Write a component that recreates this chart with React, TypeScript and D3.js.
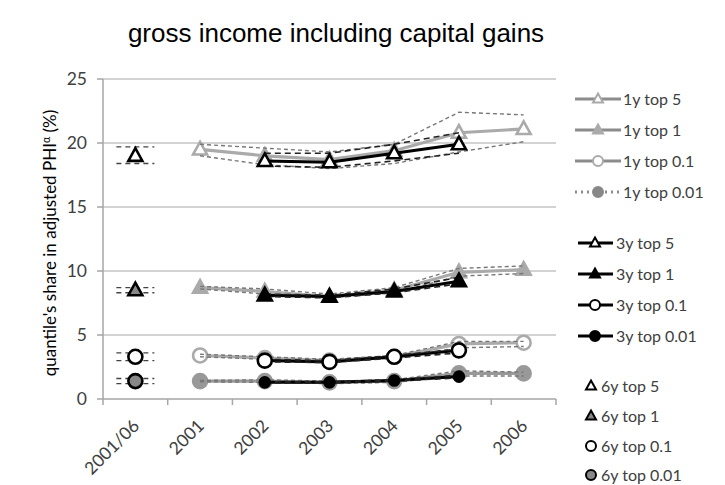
import React from "react";
import * as d3 from "d3";

// Category axis
const categories = ["2001/06", "2001", "2002", "2003", "2004", "2005", "2006"];
const years1y = ["2001", "2002", "2003", "2004", "2005", "2006"];
const years3y = ["2002", "2003", "2004", "2005"];
const yTicks = [0, 5, 10, 15, 20, 25];

// 1-year estimates (share in %), with lower/upper bands
const y1Top5 = [19.5, 19.0, 18.7, 19.4, 20.8, 21.1];
const y1Top5Lo = [19.0, 18.3, 18.0, 18.4, 19.3, 20.1];
const y1Top5Hi = [19.9, 19.6, 19.3, 19.9, 22.4, 22.2];
const y1Top1 = [8.7, 8.4, 8.0, 8.5, 9.9, 10.1];
const y1Top1Lo = [8.6, 8.2, 7.9, 8.3, 9.6, 9.8];
const y1Top1Hi = [8.8, 8.6, 8.2, 8.7, 10.2, 10.4];
const y1Top01 = [3.4, 3.2, 3.0, 3.3, 4.3, 4.4];
const y1Top01Lo = [3.3, 3.1, 2.9, 3.2, 4.0, 4.1];
const y1Top01Hi = [3.5, 3.3, 3.1, 3.4, 4.5, 4.5];
const y1Top001 = [1.4, 1.4, 1.3, 1.4, 2.0, 2.0];
const y1Top001Lo = [1.35, 1.3, 1.2, 1.3, 1.8, 1.8];
const y1Top001Hi = [1.45, 1.5, 1.4, 1.5, 2.2, 2.1];

// 3-year estimates, with lower/upper bands
const y3Top5 = [18.6, 18.5, 19.2, 19.9];
const y3Top5Lo = [18.2, 18.1, 18.6, 19.2];
const y3Top5Hi = [19.2, 19.2, 19.9, 20.8];
const y3Top1 = [8.1, 8.0, 8.4, 9.2];
const y3Top1Lo = [8.0, 7.9, 8.3, 9.0];
const y3Top1Hi = [8.2, 8.1, 8.6, 9.5];
const y3Top01 = [3.0, 2.9, 3.3, 3.8];
const y3Top01Lo = [2.9, 2.85, 3.2, 3.6];
const y3Top01Hi = [3.1, 3.0, 3.4, 3.9];
const y3Top001 = [1.3, 1.3, 1.45, 1.75];
const y3Top001Lo = [1.25, 1.25, 1.4, 1.65];
const y3Top001Hi = [1.35, 1.35, 1.5, 1.85];

// 6-year pooled estimates: [value, lower, upper]
const y6Top5 = [19.0, 18.4, 19.7];
const y6Top1 = [8.5, 8.3, 8.7];
const y6Top01 = [3.3, 3.0, 3.6];
const y6Top001 = [1.4, 1.2, 1.6];

const legend1y = ["1y top 5", "1y top 1", "1y top 0.1", "1y top 0.01"];
const legend3y = ["3y top 5", "3y top 1", "3y top 0.1", "3y top 0.01"];
const legend6y = ["6y top 5", "6y top 1", "6y top 0.1", "6y top 0.01"];

type Mk = "triOpen" | "triFill" | "circOpen" | "circFill";

const GRAY = "#aaaaaa";
const LEG_GRAY = "#8c8c8c";
const DARK_FILL = "#888888";
const TITLE_FONT = "'Liberation Sans', Arial, sans-serif";
const FONT = "Lato, 'Open Sans', sans-serif";
const TXT = "#404040";

function Marker({ kind, x, y, stroke, fill, r = 7, sw = 2.6 }: { kind: Mk; x: number; y: number; stroke: string; fill: string; r?: number; sw?: number }) {
  if (kind === "triOpen" || kind === "triFill") {
    const h = r * 1.8;
    const w = r * 2;
    const p = `M${x},${y - h * 0.6} L${x + w / 2},${y + h * 0.4} L${x - w / 2},${y + h * 0.4} Z`;
    return <path d={p} fill={fill} stroke={stroke} strokeWidth={sw} strokeLinejoin="miter" />;
  }
  return <circle cx={x} cy={y} r={r} fill={fill} stroke={stroke} strokeWidth={sw} />;
}

export default function App() {
  const W = 725;
  const H = 485;
  const x = d3.scaleBand<string>().domain(categories).range([103, 556]);
  const y = d3.scaleLinear().domain([0, 25]).range([399, 79]);
  const cx = (c: string) => (x(c) as number) + x.bandwidth() / 2;

  const line = (xs: string[], vs: number[]) =>
    d3.line<number>().x((_, i) => cx(xs[i])).y((v) => y(v))(vs) as string;

  const series1y = [
    { v: y1Top5, lo: y1Top5Lo, hi: y1Top5Hi, mk: "triOpen" as Mk, fill: "#fff", stroke: GRAY, r: 7 },
    { v: y1Top1, lo: y1Top1Lo, hi: y1Top1Hi, mk: "triFill" as Mk, fill: GRAY, stroke: GRAY, r: 7 },
    { v: y1Top01, lo: y1Top01Lo, hi: y1Top01Hi, mk: "circOpen" as Mk, fill: "#fff", stroke: GRAY, r: 7 },
    { v: y1Top001, lo: y1Top001Lo, hi: y1Top001Hi, mk: "circFill" as Mk, fill: "#999", stroke: "#999", r: 7 },
  ];
  const series3y = [
    { v: y3Top5, lo: y3Top5Lo, hi: y3Top5Hi, mk: "triOpen" as Mk, fill: "#fff", stroke: "#000", r: 7 },
    { v: y3Top1, lo: y3Top1Lo, hi: y3Top1Hi, mk: "triFill" as Mk, fill: "#000", stroke: "#000", r: 7 },
    { v: y3Top01, lo: y3Top01Lo, hi: y3Top01Hi, mk: "circOpen" as Mk, fill: "#fff", stroke: "#000", r: 7 },
    { v: y3Top001, lo: y3Top001Lo, hi: y3Top001Hi, mk: "circFill" as Mk, fill: "#000", stroke: "#000", r: 5 },
  ];
  const series6y = [
    { d: y6Top5, mk: "triOpen" as Mk, fill: "#fff" },
    { d: y6Top1, mk: "triFill" as Mk, fill: DARK_FILL },
    { d: y6Top01, mk: "circOpen" as Mk, fill: "#fff" },
    { d: y6Top001, mk: "circFill" as Mk, fill: DARK_FILL },
  ];

  const c6 = cx("2001/06");

  return (
    <svg width={W} height={H} style={{ position: "absolute", left: 0, top: 0, background: "#fff" }}>
      <rect width={W} height={H} fill="#fff" />
      <text x={336} y={42} textAnchor="middle" fontFamily={TITLE_FONT} fontSize={26} fill="#000">
        gross income including capital gains
      </text>

      {/* gridlines and y axis */}
      {yTicks.map((t) => (
        <g key={t}>
          <line x1={103} x2={556} y1={y(t)} y2={y(t)} stroke={t === 0 ? "#a6a6a6" : "#c4c4c4"} strokeWidth={1.5} />
          <line x1={97} x2={103} y1={y(t)} y2={y(t)} stroke="#a6a6a6" strokeWidth={1.5} />
          <text x={87} y={y(t)} dy="0.36em" textAnchor="end" fontFamily={FONT} fontSize={17.5} fill={TXT}>
            {t}
          </text>
        </g>
      ))}
      <line x1={103} x2={103} y1={79} y2={405} stroke="#a6a6a6" strokeWidth={1.5} />
      {categories.map((c, i) => (
        <line key={"tk" + i} x1={(x(c) as number) + x.bandwidth()} x2={(x(c) as number) + x.bandwidth()} y1={399} y2={405} stroke="#a6a6a6" strokeWidth={1.5} />
      ))}
      {categories.map((c) => (
        <text key={"xl" + c} transform={`translate(${cx(c) + 5},${427}) rotate(-45)`} textAnchor="end" fontFamily={FONT} fontSize={17.5} fill={TXT}>
          {c}
        </text>
      ))}

      <text transform={`translate(56,243) rotate(-90)`} textAnchor="middle" fontFamily={FONT} fontSize={17} fill="#000">
        quantile's share in adjusted PHI
        <tspan dy={-6} fontSize={10.5}>α</tspan>
        <tspan dy={6}> (%)</tspan>
      </text>

      {/* 1-year series */}
      {series1y.map((s, k) => (
        <g key={"s1" + k}>
          <path d={line(years1y, s.v)} fill="none" stroke={s.mk === "circFill" ? "#999" : GRAY} strokeWidth={3.2} />
          {s.v.map((v, i) => (
            <Marker key={i} kind={s.mk} x={cx(years1y[i])} y={y(v)} stroke={s.stroke} fill={s.fill} r={s.r} />
          ))}
          <path d={line(years1y, s.lo)} fill="none" stroke="#777" strokeWidth={1.4} strokeDasharray="4,3" />
          <path d={line(years1y, s.hi)} fill="none" stroke="#777" strokeWidth={1.4} strokeDasharray="4,3" />
        </g>
      ))}

      {/* 3-year series */}
      {series3y.map((s, k) => (
        <g key={"s3" + k}>
          <path d={line(years3y, s.v)} fill="none" stroke="#000" strokeWidth={3} />
          <path d={line(years3y, s.lo)} fill="none" stroke="#222" strokeWidth={1.6} strokeDasharray="6,4" />
          <path d={line(years3y, s.hi)} fill="none" stroke="#222" strokeWidth={1.6} strokeDasharray="6,4" />
          {s.v.map((v, i) => (
            <Marker key={i} kind={s.mk} x={cx(years3y[i])} y={y(v)} stroke={s.stroke} fill={s.fill} r={s.r} />
          ))}
        </g>
      ))}

      {/* 6-year pooled points */}
      {series6y.map((s, k) => (
        <g key={"s6" + k}>
          <line x1={c6 - 19} x2={c6 + 19} y1={y(s.d[1])} y2={y(s.d[1])} stroke="#444" strokeWidth={1.3} strokeDasharray="5,4" />
          <line x1={c6 - 19} x2={c6 + 19} y1={y(s.d[2])} y2={y(s.d[2])} stroke="#444" strokeWidth={1.3} strokeDasharray="5,4" />
          <Marker kind={s.mk} x={c6} y={y(s.d[0])} stroke="#000" fill={s.fill} r={7} />
        </g>
      ))}

      {/* legend */}
      {legend1y.map((name, i) => {
        const ly = [99, 130, 161, 192][i];
        const kinds: Mk[] = ["triOpen", "triFill", "circOpen", "circFill"];
        const fills = ["#fff", GRAY, "#fff", DARK_FILL];
        const strokes = [GRAY, GRAY, GRAY, DARK_FILL];
        return (
          <g key={"l1" + i}>
            <line x1={575} x2={621} y1={ly} y2={ly} stroke={LEG_GRAY} strokeWidth={3} strokeDasharray={i === 3 ? "2,4" : undefined} />
            <Marker kind={kinds[i]} x={598} y={ly} stroke={strokes[i]} fill={fills[i]} r={5} sw={2} />
            <text x={623} y={ly} dy="0.36em" fontFamily={FONT} fontSize={16} fill={TXT}>{name}</text>
          </g>
        );
      })}
      {legend3y.map((name, i) => {
        const ly = [243, 274, 305, 336][i];
        const kinds: Mk[] = ["triOpen", "triFill", "circOpen", "circFill"];
        const fills = ["#fff", "#000", "#fff", "#000"];
        return (
          <g key={"l3" + i}>
            <line x1={578} x2={613} y1={ly} y2={ly} stroke="#000" strokeWidth={3} />
            <Marker kind={kinds[i]} x={595} y={ly} stroke="#000" fill={fills[i]} r={5} sw={2} />
            <text x={616} y={ly} dy="0.36em" fontFamily={FONT} fontSize={16} fill={TXT}>{name}</text>
          </g>
        );
      })}
      {legend6y.map((name, i) => {
        const ly = [386, 416, 446, 475][i];
        const kinds: Mk[] = ["triOpen", "triFill", "circOpen", "circFill"];
        const fills = ["#fff", DARK_FILL, "#fff", DARK_FILL];
        return (
          <g key={"l6" + i}>
            <Marker kind={kinds[i]} x={591} y={ly} stroke="#000" fill={fills[i]} r={5} sw={2} />
            <text x={601} y={ly} dy="0.36em" fontFamily={FONT} fontSize={16} fill={TXT}>{name}</text>
          </g>
        );
      })}
    </svg>
  );
}
